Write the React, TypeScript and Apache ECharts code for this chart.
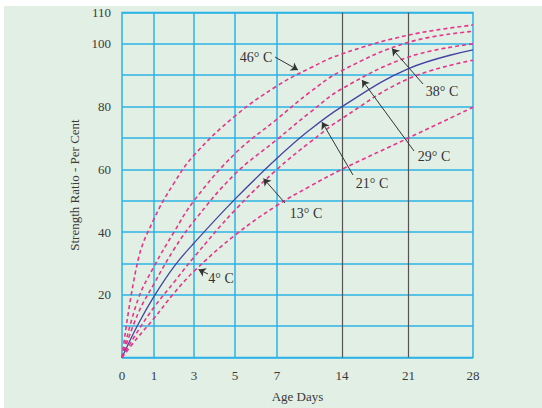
import React, { useEffect, useRef } from "react";
import * as echarts from "echarts";

// Age in days at the tick marks, and where those ticks sit on the chart's (non-linear) age scale
const DAY_TICKS = [0, 1, 3, 5, 7, 14, 21, 28];
const AXIS_POS = [0, 32, 72, 113, 155, 220, 286.5, 351];
const Y_LABELS = [20, 40, 60, 80, 100, 110];

// Sampled ages (days) and strength ratio (%) per curing temperature
const DAYS = [0, 0.5, 1, 2, 3, 5, 7, 10.5, 14, 21, 28];
const T46 = [0, 31, 44.2, 55.6, 64.5, 77, 86.6, 92.2, 96.8, 102.8, 106];
const T38 = [0, 18.5, 29, 40, 50, 65, 76, 84.5, 91.5, 100.5, 104];
const T29 = [0, 14, 23.5, 34.5, 43.5, 58.5, 69.5, 78, 85.7, 95.8, 100];
const T21 = [0, 10.5, 19.5, 29, 36.5, 50.5, 63.5, 72.5, 80, 92.1, 98.1];
const T13 = [0, 8.5, 16, 24, 32, 47, 60, 68.5, 76.2, 88.9, 94.8];
const T4 = [0, 6.5, 12.5, 20.5, 27.5, 39, 48.5, 54.5, 60, 70, 79.8];
const LABELS = ["46° C", "38° C", "29° C", "21° C", "13° C", "4° C"];

const OX = 4;
const OY = 6;

function dayToPos(d: number): number {
  for (let i = 0; i < DAY_TICKS.length - 1; i++) {
    const a = DAY_TICKS[i], b = DAY_TICKS[i + 1];
    if (d >= a && d <= b) {
      return AXIS_POS[i] + ((d - a) / (b - a)) * (AXIS_POS[i + 1] - AXIS_POS[i]);
    }
  }
  return AXIS_POS[AXIS_POS.length - 1];
}

export default function App() {
  const ref = useRef<HTMLDivElement>(null);
  useEffect(() => {
    if (!ref.current) return;
    const chart = echarts.init(ref.current, null, { renderer: "svg" });
    const font = "Liberation Serif";
    const blue = "#2cb3e6";
    const pink = "#e6358b";
    const curves = [T46, T38, T29, T21, T13, T4];
    const series: any[] = curves.map((vals, k) => ({
      type: "line",
      name: LABELS[k],
      data: DAYS.map((d, i) => [dayToPos(d), vals[i]]),
      smooth: 0.4,
      symbol: "none",
      z: 3,
      lineStyle:
        k === 3
          ? { color: "#4444a4", width: 1.3, type: "solid" }
          : { color: pink, width: 1.6, type: [4, 3] },
    }));
    // vertical grid lines
    series.push({
      type: "line",
      data: [],
      symbol: "none",
      z: 1,
      markLine: {
        silent: true,
        z: 1,
        symbol: ["none", "none"],
        label: { show: false },
        data: DAY_TICKS.slice(1, -1).map((d, i) => ({
          xAxis: AXIS_POS[i + 1],
          lineStyle: {
            color: d >= 14 ? "#555555" : blue,
            width: d >= 14 ? 1.2 : 1.5,
            type: "solid",
          },
        })),
      },
    });
    // annotation arrows
    const arrows = [
      [[275, 57], [298, 70]],
      [[423, 84], [392, 48.5]],
      [[414, 151], [362, 80]],
      [[353, 175], [322, 122]],
      [[285, 203], [263.5, 178.5]],
      [[208, 274], [198.5, 269.5]],
    ];
    const textPos = [
      [256, 57],
      [442, 91],
      [434, 156],
      [372, 183],
      [306, 213],
      [221, 278],
    ];
    series.push({
      type: "line",
      data: [],
      symbol: "none",
      z: 5,
      markLine: {
        silent: true,
        z: 5,
        symbol: ["none", "arrow"],
        symbolSize: 7,
        label: { show: false },
        lineStyle: { color: "#333", width: 1, type: "solid" },
        data: arrows.map(([a, b]) => [
          { x: a[0] - OX, y: a[1] - OY },
          { x: b[0] - OX, y: b[1] - OY },
        ]),
      },
    });

    chart.setOption({
      animation: false,
      backgroundColor: "#e2efe4",
      grid: {
        left: 122 - OX,
        right: 542 - 473,
        top: 10 - OY,
        bottom: 408 - 357.5,
        show: true,
        borderColor: blue,
        borderWidth: 1.5,
        backgroundColor: "transparent",
      },
      xAxis: {
        type: "value",
        min: 0,
        max: AXIS_POS[AXIS_POS.length - 1],
        name: "Age Days",
        nameLocation: "middle",
        nameGap: 32,
        nameTextStyle: { fontFamily: font, fontSize: 13, color: "#3a3a3a" },
        axisLine: { show: false },
        axisTick: { show: false, customValues: AXIS_POS },
        splitLine: { show: false },
        axisLabel: {
          customValues: AXIS_POS,
          formatter: (v: number) => {
            const idx = AXIS_POS.findIndex((p) => Math.abs(p - v) < 0.01);
            return idx >= 0 ? String(DAY_TICKS[idx]) : "";
          },
          fontFamily: font,
          fontSize: 13,
          color: "#3a3a3a",
          margin: 11,
        },
      },
      yAxis: {
        type: "value",
        min: 0,
        max: 110,
        interval: 10,
        name: "Strength Ratio - Per Cent",
        nameLocation: "middle",
        nameGap: 29,
        nameTextStyle: { fontFamily: font, fontSize: 13, color: "#3a3a3a" },
        axisLine: { show: false },
        axisTick: { show: false },
        splitLine: { show: true, lineStyle: { color: blue, width: 1.5 } },
        axisLabel: {
          customValues: Y_LABELS,
          fontFamily: font,
          fontSize: 13,
          color: "#3a3a3a",
          margin: 11,
        },
      },
      graphic: textPos.map((p, i) => ({
        type: "text",
        x: p[0] - OX,
        y: p[1] - OY,
        z: 10,
        style: {
          text: LABELS[i],
          fill: "#333",
          font: `14px '${font}'`,
          align: "center",
          verticalAlign: "middle",
        },
      })),
      series,
    });
    return () => chart.dispose();
  }, []);
  return (
    <div style={{ position: "fixed", left: 0, top: 0, width: 542, height: 408, background: "#fff" }}>
      <div
        ref={ref}
        style={{ position: "absolute", left: OX, top: OY, width: 542 - OX, height: 408 - OY }}
      />
    </div>
  );
}
